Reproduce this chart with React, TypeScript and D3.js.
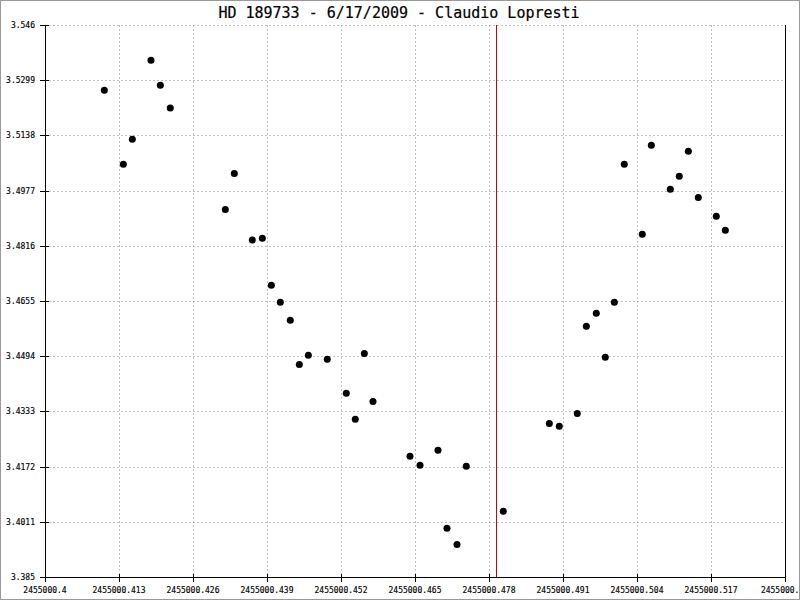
import React from "react";
import * as d3 from "d3";

const title = "HD 189733 - 6/17/2009 - Claudio Lopresti";

const jd: number[] = [
  2455000.41042, 2455000.41376, 2455000.41534, 2455000.41862, 2455000.42026, 2455000.42201,
  2455000.43168, 2455000.43326, 2455000.43642, 2455000.43818, 2455000.43976, 2455000.44134,
  2455000.44309, 2455000.44468, 2455000.44626, 2455000.44959, 2455000.45293, 2455000.45451,
  2455000.4561, 2455000.45762, 2455000.46412, 2455000.46588, 2455000.46904, 2455000.47062,
  2455000.47238, 2455000.47401, 2455000.48051, 2455000.4886, 2455000.49035, 2455000.49351,
  2455000.4951, 2455000.49685, 2455000.49843, 2455000.50002, 2455000.50177, 2455000.50493,
  2455000.50652, 2455000.50985, 2455000.51143, 2455000.51302, 2455000.51477, 2455000.51793,
  2455000.51952,
];
const mag: number[] = [
  3.527, 3.5054, 3.5127, 3.5357, 3.5284, 3.5218,
  3.4922, 3.5027, 3.4833, 3.4838, 3.4701, 3.4651,
  3.4599, 3.447, 3.4497, 3.4485, 3.4386, 3.431,
  3.4502, 3.4362, 3.4202, 3.4176, 3.422, 3.3992,
  3.3945, 3.4173, 3.4042, 3.4298, 3.429, 3.4327,
  3.4581, 3.4619, 3.4491, 3.4651, 3.5054, 3.485,
  3.5109, 3.4981, 3.5019, 3.5092, 3.4957, 3.4902,
  3.4861,
];

const xTickLabels = [
  "2455000.4", "2455000.413", "2455000.426", "2455000.439", "2455000.452", "2455000.465",
  "2455000.478", "2455000.491", "2455000.504", "2455000.517", "2455000.53",
];
const yTickLabels = [
  "3.385", "3.4011", "3.4172", "3.4333", "3.4494", "3.4655",
  "3.4816", "3.4977", "3.5138", "3.5299", "3.546",
];
const markerJD = 2455000.47918;

const xDomain = [2455000.4, 2455000.53];
const yDomain = [3.385, 3.546];

export default function App() {
  const W = 800, H = 600;
  const left = 45, right = 785, top = 25, bottom = 577;
  const x = d3.scaleLinear().domain(xDomain).range([left, right]);
  const y = d3.scaleLinear().domain(yDomain).range([bottom, top]);
  const font = "'DejaVu Sans Mono', monospace";
  const xTicks = xTickLabels.map((s) => +s);
  const yTicks = yTickLabels.map((s) => +s);
  const px = (v: number) => Math.round(v) + 0.5;

  return (
    <svg width={W} height={H} style={{ position: "absolute", left: 0, top: 0, background: "#fff" }}>
      <rect x={0.5} y={0.5} width={W - 1} height={H - 1} fill="#fff" stroke="#999" strokeWidth={1} />
      <text x={399} y={18} textAnchor="middle" fontFamily={font} fontSize={15} fill="#000" stroke="#000" strokeWidth={0.2}>{title}</text>
      {/* grid */}
      <g stroke="#c0c0c0" strokeDasharray="2,2" strokeWidth={1} shapeRendering="crispEdges">
        {xTicks.slice(1, -1).map((t, i) => (
          <line key={"gx" + i} x1={px(x(t))} x2={px(x(t))} y1={top} y2={bottom} />
        ))}
        {yTicks.slice(1).map((t, i) => (
          <line key={"gy" + i} x1={left} x2={right} y1={px(y(t))} y2={px(y(t))} />
        ))}
      </g>
      {/* marker line */}
      <line x1={px(x(markerJD))} x2={px(x(markerJD))} y1={top} y2={bottom} stroke="#cc0000" strokeWidth={1} shapeRendering="crispEdges" />
      {/* axes */}
      <g stroke="#000" strokeWidth={1} shapeRendering="crispEdges">
        <line x1={px(left)} x2={px(left)} y1={top} y2={bottom + 1} />
        <line x1={px(right)} x2={px(right)} y1={top} y2={bottom + 1} />
        <line x1={left} x2={right + 1} y1={px(bottom)} y2={px(bottom)} />
        {xTicks.map((t, i) => (
          <line key={"tx" + i} x1={px(x(t))} x2={px(x(t))} y1={bottom - 3} y2={bottom + 5} />
        ))}
        {yTicks.map((t, i) => (
          <line key={"ty" + i} x1={left - 5} x2={left + 4} y1={px(y(t))} y2={px(y(t))} />
        ))}
      </g>
      <g fontFamily={font} fontSize={8} fill="#000" stroke="#000" strokeWidth={0.15}>
        {xTicks.map((t, i) => (
          <text key={"lx" + i} x={x(t)} y={593} textAnchor="middle">{xTickLabels[i]}</text>
        ))}
        {yTicks.map((t, i) => (
          <text key={"ly" + i} x={35} y={y(t) + 3} textAnchor="end">{yTickLabels[i]}</text>
        ))}
      </g>
      <g fill="#000">
        {jd.map((d, i) => (
          <circle key={"p" + i} cx={x(d)} cy={y(mag[i])} r={3.5} />
        ))}
      </g>
    </svg>
  );
}
